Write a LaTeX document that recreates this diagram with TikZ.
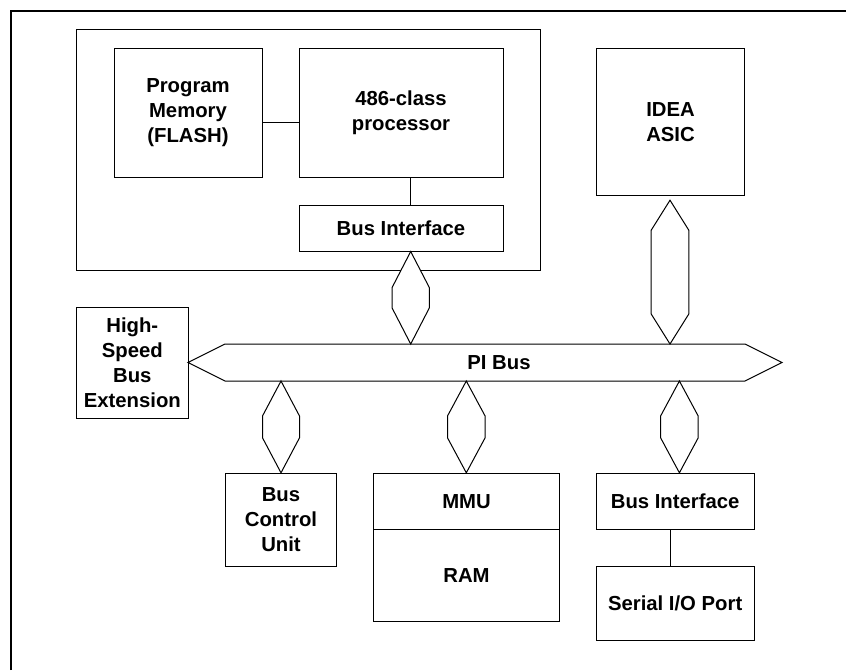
\documentclass[tikz,border=0pt]{standalone}
\usepackage{fontspec}
\setmainfont{Liberation Sans}
\usetikzlibrary{calc}

% hexagonal bidirectional bus link between two points: #1 top, #2 bottom,
% #3 half width, #4 shoulder length
\newcommand{\hexlink}[4]{%
  \draw[link] (#1) -- ($(#1)+(-#3,#4)$) -- ($(#2)+(-#3,-#4)$) -- (#2)
    -- ($(#2)+(#3,-#4)$) -- ($(#1)+(#3,#4)$) -- cycle;}

\begin{document}
\begin{tikzpicture}[x=1pt,y=-1pt,
  box/.style={draw=black,line width=1pt,fill=white,inner sep=2pt,align=center,
    font=\fontsize{20.3}{25}\selectfont\bfseries},
  link/.style={draw=black,line width=1pt,fill=white},
  wire/.style={draw=black,line width=1pt},
  frame/.style={draw=black,line width=2.4pt}]
\useasboundingbox (0,0) rectangle (846,670);

% frame edges
\coordinate (fTL) at (11,11);
\coordinate (fTR) at (846,11);
\coordinate (fBL) at (11,670);
\draw[frame] (fBL) -- (fTL) -- (fTR);

% CPU module
\node[box,minimum width=464pt,minimum height=240.5pt] (cpu) at (308,149.75) {};
\node[box,minimum width=148pt,minimum height=129pt] (pm) at (188,112.5)
  {Program\\Memory\\(FLASH)};
\node[box,minimum width=204pt,minimum height=129pt] (proc) at (401,112.5)
  {486-class\\processor};
\node[box,minimum width=204pt,minimum height=46pt] (bi1) at (401,228)
  {Bus Interface};

% IDEA ASIC
\node[box,minimum width=148.4pt,minimum height=147.7pt] (idea) at (670.5,121.85)
  {IDEA\\ASIC};

% High-speed bus extension
\node[box,minimum width=112pt,minimum height=111pt] (hsbe) at (132.3,362.5)
  {High-\\Speed\\Bus\\Extension};

% PI bus
\coordinate (busL) at (188,362.5);
\coordinate (busR) at (782,362.5);
\draw[link] (busL) -- (225,344) -- (745,344) -- (busR) -- (745,381) -- (225,381) -- cycle;
\node[font=\fontsize{20.3}{25}\selectfont\bfseries] (buslabel) at (499,362.5) {PI Bus};

% bus taps
\coordinate (tCPU) at (410.7,344);
\coordinate (tIDEA) at (670,344);
\coordinate (tBCU) at (281,381);
\coordinate (tMMU) at (466.3,381);
\coordinate (tSIO) at (679.4,381);

% lower devices
\node[box,minimum width=111.4pt,minimum height=92.7pt] (bcu) at (281,519.65)
  {Bus\\Control\\Unit};
\node[box,minimum width=185.6pt,minimum height=55.7pt] (mmu) at (466.5,501.15) {MMU};
\node[box,minimum width=185.6pt,minimum height=92.7pt] (ram) at (466.5,575.35) {RAM};
\node[box,minimum width=157.7pt,minimum height=55.7pt] (bi2) at (675.15,501.15)
  {Bus Interface};
\node[box,minimum width=157.7pt,minimum height=74pt] (sio) at (675.15,603)
  {Serial I/O Port};

% plain wires
\draw[wire] ([yshift=-9.5pt]pm.east) -- ([yshift=-9.5pt]proc.west);
\draw[wire] (proc.south -| tCPU) -- (bi1.north -| tCPU);
\draw[wire] (bi2.south -| 670.3,0) -- (sio.north -| 670.3,0);

% bus links
\hexlink{bi1.south -| tCPU}{tCPU}{18.6}{36}
\coordinate (ideaTop) at ($(idea.south -| tIDEA)+(0,4)$);
\hexlink{ideaTop}{tIDEA}{18.8}{30}
\hexlink{tBCU}{bcu.north}{18.5}{35}
\hexlink{tMMU}{mmu.north -| tMMU}{18.8}{35}
\hexlink{tSIO}{bi2.north -| tSIO}{18.8}{35}
\end{tikzpicture}
\end{document}
